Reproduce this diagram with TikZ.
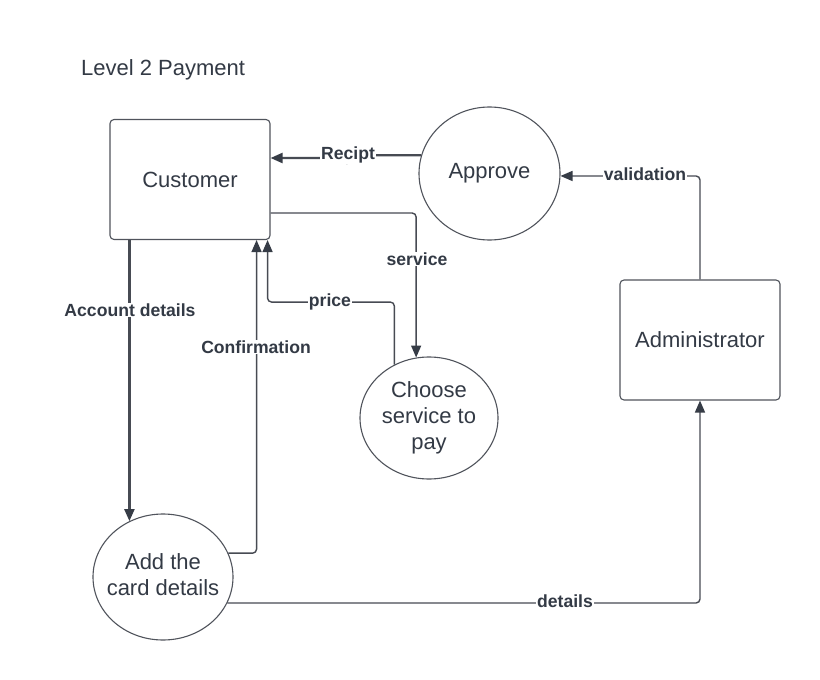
\documentclass[tikz,border=0pt]{standalone}
\usepackage{fontspec}
\setmainfont{Liberation Sans}
\usetikzlibrary{shapes.geometric,arrows.meta}
\definecolor{txt}{HTML}{333A45}
\definecolor{bord}{HTML}{50545C}
\definecolor{ln}{HTML}{474B53}
\definecolor{tip}{HTML}{363C46}
\tikzset{
  proc/.style={draw=bord,line width=1.1pt,rounded corners=4pt,minimum width=160pt,minimum height=120pt,inner sep=0pt,text=txt,font=\fontsize{22}{26}\selectfont,align=center},
  bubble/.style={draw=bord,line width=1.1pt,ellipse,inner sep=0pt,text=txt,font=\fontsize{22}{26}\selectfont,align=center},
  conn/.style={draw=ln,line width=1.4pt,rounded corners=4pt,-{Triangle[length=12pt,width=10pt,color=tip]}},
  thickconn/.style={conn,line width=2.2pt},
  lbl/.style={fill=white,inner sep=1pt,text=txt,font=\bfseries\fontsize{17.6}{20}\selectfont}
}
\newcommand{\slimtext}[1]{\makebox[0pt][c]{\begin{tabular}{@{}c@{}}#1\end{tabular}}}
\begin{document}
\begin{tikzpicture}[x=1pt,y=-1pt]
\useasboundingbox[fill=white] (0,0) rectangle (820,680);
\node[anchor=base west,inner sep=0pt,text=txt,font=\fontsize{22}{26}\selectfont] (title) at (81,75) {Level 2 Payment};
\node[proc] (cust) at (190,179.5) {Customer};
\node[proc] (admin) at (700,340) {Administrator};
\node[bubble,minimum width=141pt,minimum height=133pt] (approve) at (489.5,173.5) {Approve};
\node[bubble,minimum width=138pt,minimum height=122pt] (choose) at (429,418) {\slimtext{Choose\\service to\\pay}};
\node[bubble,minimum width=140pt,minimum height=126pt] (card) at (163,577) {\slimtext{Add the\\card details}};
% connectors
\draw[thickconn] (approve.165) -- (348,155.3) -- (348,158) -- ([yshift=21.5pt]cust.east);
\draw[conn] ([yshift=-33.5pt]cust.east) -| (choose.102);
\draw[conn] (choose.123) |- ([xshift=-3pt,yshift=-62pt]cust.south east) -- ([xshift=-3pt]cust.south east);
\draw[thickconn] (card.121 |- cust.south) -- (card.121);
\draw[conn] (card.20) -| ([xshift=-14pt]cust.south east);
\draw[conn] (card.-22) -| (admin.south);
\draw[conn] (admin.north) |- (approve.-2);
% labels
\node[lbl] (lrecipt) at (348,155) {Recipt};
\node[lbl] (lservice) at (417,259) {service};
\node[lbl] (lprice) at (330,302) {price};
\node[lbl] (lacc) at (130,310) {Account details};
\node[lbl] (lconf) at (256,347) {Confirmation};
\node[lbl] (ldet) at (565,601) {details};
\node[lbl] (lval) at (645,174) {validation};
\end{tikzpicture}
\end{document}
